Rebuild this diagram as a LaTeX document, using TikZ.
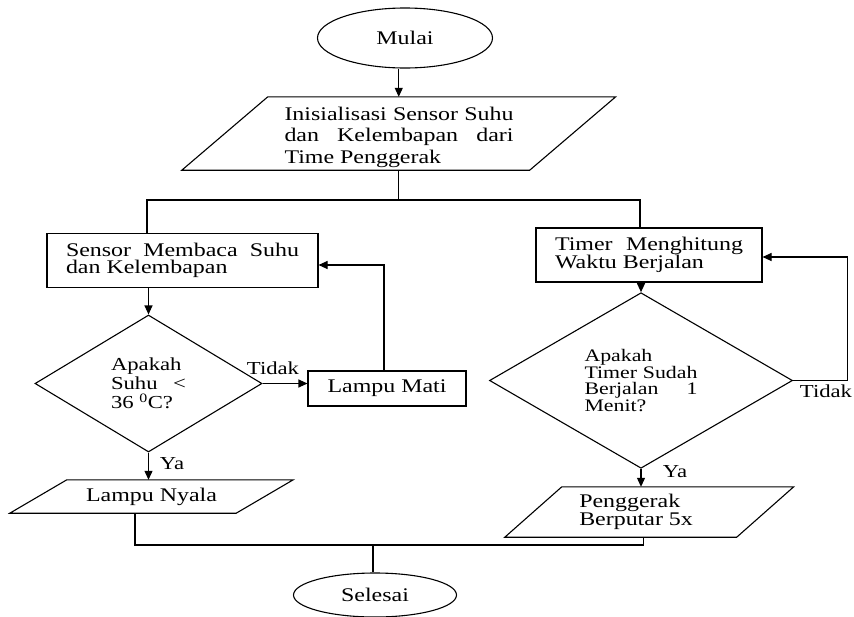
\documentclass[tikz,border=0pt]{standalone}
\usepackage{fontspec}
\setmainfont[FakeStretch=1.24]{Liberation Serif}
\usetikzlibrary{shapes.geometric,arrows.meta}
\newcommand\fsz[2]{\fontsize{#1}{#2}\selectfont}
\newcommand\jline[2]{\makebox[#1pt][s]{#2}}
\newcommand\drawpara[2]{\draw[line] ([xshift=#2]#1.north west) -- ([xshift=#2]#1.north east) -- ([xshift=-#2]#1.south east) -- ([xshift=-#2]#1.south west) -- cycle;}
\begin{document}
\begin{tikzpicture}[x=1pt,y=-1pt,
  line/.style={line width=1.1pt, draw=black},
  arr/.style={line, -{Triangle[length=9pt,width=8pt]}},
  txt/.style={inner sep=0, align=left, font=\fsz{19.3}{20}},
  term/.style={txt, draw, line, ellipse},
  rect/.style={txt, draw, line, rectangle},
  dia/.style={txt, draw, line, diamond},
  lab/.style={inner sep=0, font=\fsz{18.3}{18}}]
\useasboundingbox[fill=white] (0,0) rectangle (854,616);

% nodes
\node[term, minimum width=175, minimum height=60] (mulai) at (405,38) {Mulai};
\node[inner sep=0, minimum width=347.5, minimum height=73] (init) at (398.75,133.5) {};
\drawpara{init}{43}
\node[txt, font=\fsz{19.3}{21.5}] (initT) at (399,137)
  {\jline{229}{Inisialisasi Sensor Suhu}\\ \jline{229}{dan Kelembapan dari}\\ Time Penggerak};
\node[rect, minimum width=271, minimum height=54, font=\fsz{19.3}{17.7}] (sensor) at (182.5,260.5)
  {\jline{233}{Sensor Membaca Suhu}\\ dan Kelembapan};
\node[rect, minimum width=226, minimum height=54, font=\fsz{19.3}{14.5}] (timer) at (649,255)
  {\jline{188}{Timer Menghitung}\\ Waktu Berjalan};
\node[dia, minimum width=227, minimum height=137, font=\fsz{18.3}{19}] (dL) at (148.5,383.5)
  {Apakah\\ \jline{75}{Suhu <}\\ 36 \textsuperscript{0}C?};
\node[rect, minimum width=158, minimum height=35] (mati) at (387,388.5) {Lampu Mati};
\node[dia, minimum width=303, minimum height=151, font=\fsz{17.6}{16.7}] (dR) at (641,380.5)
  {Apakah\\ \jline{113}{Timer Sudah}\\ \jline{113}{Berjalan 1}\\ Menit?};
\node[txt, minimum width=226, minimum height=33] (nyala) at (151.5,496.5) {Lampu Nyala};
\drawpara{nyala}{28.5}
\node[txt, minimum width=231.5, minimum height=50, font=\fsz{19.3}{16.7}] (peng) at (649.25,512)
  {\makebox[140pt][l]{Penggerak}\\ Berputar 5x};
\drawpara{peng}{28.5}
\node[term, minimum width=163, minimum height=44] (selesai) at (375,595) {Selesai};

% labels
\node[lab] (t1) at (273,368) {Tidak};
\node[lab] (y1) at (172,464) {Ya};
\node[lab] (y2) at (675,472) {Ya};
\node[lab] (t2) at (826,391) {Tidak};

% connectors
\coordinate (split) at (398.75,200);
\coordinate (brL) at (147,200);
\coordinate (brR) at (640,200);
\coordinate (join) at (373,545);
\draw[arr] (mulai.south -| init.north) -- (init.north);
\draw[line] (init.south) -- (split);
\draw[line] (brL |- sensor.north) -- (brL) -- (brR) -- (brR |- timer.north);
\draw[arr] (sensor.south -| dL.north) -- (dL.north);
\draw[arr] (dL.east) -- (dL.east -| mati.west);
\draw[arr] ([xshift=-3]mati.north) |- ([yshift=-4.5]sensor.east);
\draw[arr] (dL.south) -- (dL.south |- nyala.north);
\draw[arr] (timer.south -| dR.north) -- (dR.north);
\draw[arr] (dR.east) -- ++(54,0) |- ([yshift=-2]timer.east);
\draw[arr] (dR.south) -- (dR.south |- peng.north);
\draw[line] ([xshift=-16.5]nyala.south) |- (join) -| ([xshift=-6]peng.south);
\draw[line] (join) -- (join |- selesai.north);
\end{tikzpicture}
\end{document}
